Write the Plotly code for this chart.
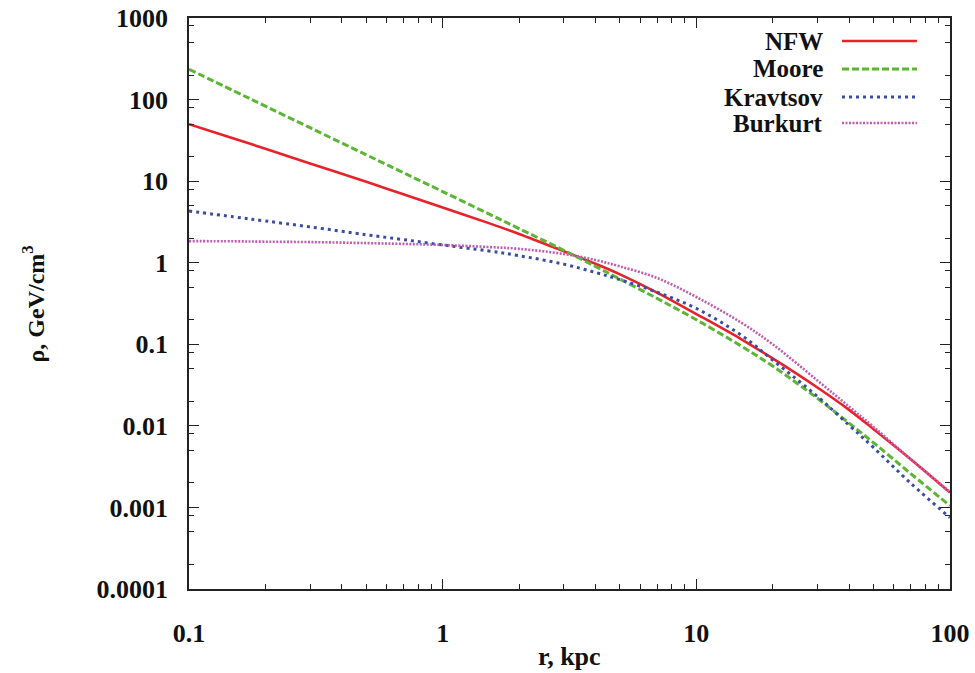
import plotly.graph_objects as go

# radius grid (kpc)
r = [0.1, 0.15, 0.2, 0.3, 0.5, 0.7, 1, 1.5, 2, 3, 4, 5, 7, 10, 15, 20, 30, 40, 50, 70, 100]

# density values (GeV/cm^3)
nfw = [50, 33.3, 25, 16.5, 9.8, 6.9, 4.75, 3.1, 2.25, 1.38, 0.97, 0.72, 0.43, 0.235,
       0.116, 0.067, 0.0295, 0.0157, 0.0091, 0.0039, 0.00152]
moore = [235, 128, 83, 45.2, 21.0, 12.7, 7.45, 4.05, 2.62, 1.42, 0.9, 0.63, 0.365, 0.2,
         0.0955, 0.054, 0.0218, 0.0108, 0.0062, 0.0026, 0.00105]
kravtsov = [4.3, 3.65, 3.25, 2.75, 2.2, 1.92, 1.65, 1.4, 1.22, 0.96, 0.76, 0.62, 0.435, 0.275,
            0.13, 0.064, 0.023, 0.0102, 0.0054, 0.00198, 0.00075]
burkert = [1.84, 1.83, 1.81, 1.79, 1.74, 1.70, 1.65, 1.56, 1.48, 1.28, 1.08, 0.9, 0.65, 0.38,
           0.185, 0.1, 0.036, 0.0172, 0.0097, 0.0039, 0.00155]

names = ["NFW", "Moore", "Kravtsov", "Burkurt"]
series = [nfw, moore, kravtsov, burkert]
colors = ["#e8212b", "#5db535", "#3a4ca3", "#c45bb4"]
dashes = ["solid", "7px,3px", "3px,4px", "2px,1.5px"]
widths = [2.6, 3, 3, 2.6]

y_ticks = [1000, 100, 10, 1, 0.1, 0.01, 0.001, 0.0001]
y_labels = ["1000", "100", "10", "1", "0.1", "0.01", "0.001", "0.0001"]
x_ticks = [0.1, 1, 10, 100]
x_labels = ["0.1", "1", "10", "100"]

FONT = "Liberation Serif, Times New Roman, DejaVu Serif, serif"
FS = 26

fig = go.Figure()
for name, ys, c, d, w in zip(names, series, colors, dashes, widths):
    fig.add_trace(go.Scatter(x=r, y=ys, mode="lines", name=name, line_shape="spline",
                             line=dict(color=c, dash=d, width=w), showlegend=False))

x_minor = [m * d for d in [0.1, 1, 10] for m in range(2, 10)]
y_minor = [m * d for d in [0.0001, 0.001, 0.01, 0.1, 1, 10, 100] for m in (2, 5, 8)]

axis_common = dict(showline=True, linecolor="#222", linewidth=1.5, mirror="allticks",
                   ticks="inside", ticklen=10, tickwidth=1.2, tickcolor="#222",
                   showgrid=False, zeroline=False, automargin=False,
                   tickfont=dict(family=FONT, size=FS, color="#111", weight="bold"))

fig.update_xaxes(type="log", range=[-1, 2], tickvals=x_ticks, ticktext=x_labels,
                 minor=dict(tickvals=x_minor, ticks="inside", ticklen=5, tickcolor="#222",
                            tickwidth=1.2, showgrid=False),
                 ticklabelstandoff=20,
                 **axis_common)
fig.update_yaxes(type="log", range=[-4, 3], tickvals=y_ticks, ticktext=y_labels,
                 minor=dict(tickvals=y_minor, ticks="inside", ticklen=5, tickcolor="#222",
                            tickwidth=1.2, showgrid=False),
                 ticklabelstandoff=14,
                 **axis_common)

# axis titles
ann = [dict(text="ρ, GeV/cm<sup>3</sup>", xref="paper", yref="paper", x=-0.205, y=0.5,
            xanchor="center", yanchor="middle", textangle=-90, showarrow=False,
            font=dict(family=FONT, size=FS - 2, color="#111", weight="bold")),
       dict(text="r, kpc", xref="paper", yref="paper", x=0.5, y=-0.119,
            xanchor="center", yanchor="middle", showarrow=False,
            font=dict(family=FONT, size=FS, color="#111", weight="bold"))]

# legend (text right-aligned, sample to the right)
row_y = [0.9597, 0.9107, 0.8616, 0.8161]
shapes = []
for name, c, d, w, yy in zip(names, colors, dashes, widths, row_y):
    ann.append(dict(text=name, xref="paper", yref="paper", x=0.8357, y=yy,
                    xanchor="right", yanchor="middle", showarrow=False,
                    font=dict(family=FONT, size=25, color="#111", weight="bold")))
    shapes.append(dict(type="line", xref="paper", yref="paper", x0=0.8581, x1=0.9566,
                       y0=yy, y1=yy, line=dict(color=c, dash=d, width=w)))

fig.update_layout(width=975, height=673, margin=dict(l=189, r=25, t=18, b=84),
                  paper_bgcolor="white", plot_bgcolor="white",
                  annotations=ann, shapes=shapes)

fig.write_html("out.html")
